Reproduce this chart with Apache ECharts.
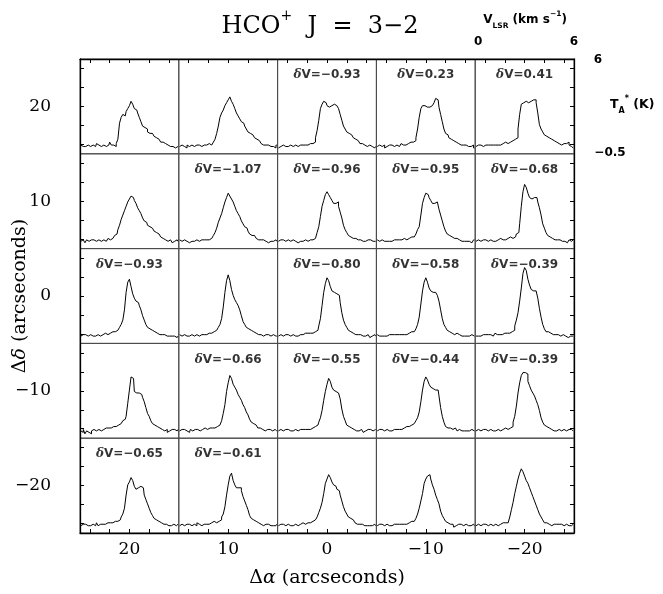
<!DOCTYPE html>
<html>
<head>
<meta charset="utf-8">
<script src="https://cdn.jsdelivr.net/npm/echarts@6/dist/echarts.min.js"></script>
<style>
  html, body { margin: 0; padding: 0; background: #fff; }
  #chart { width: 663px; height: 594px; }
</style>
</head>
<body>
<div id="chart"></div>
<script>
// Map offsets (arcsec): columns run east to west, rows north to south
const RA_OFFSETS  = [20, 10, 0, -10, -20];
const DEC_OFFSETS = [20, 10, 0, -10, -20];

// Spectral channels: centre of first channel and channel width (km/s)
const V_START = 0.05;
const V_STEP = 0.1;
const V_RANGE = [0, 6];
const T_RANGE = [-0.5, 6];

// Outer axis ticks and labels (arcsec)
const OFFSET_TICKS = [-24, -22, -20, -18, -16, -14, -12, -10, -8, -6, -4, -2, 0, 2, 4, 6, 8, 10, 12, 14, 16, 18, 20, 22, 24];
const OFFSET_LABELS = [-20, -10, 0, 10, 20];

// HCO+ 3-2 spectra, T_A* (K) per channel, named sp_<ra>_<dec>
const sp_20_20 = [0.1,0.0,-0.1,0.0,0.1,0.0,0.0,0.1,0.1,0.0,0.2,0.1,0.0,0.1,0.1,0.0,0.0,0.1,0.3,0.1,0.1,0.0,0.2,
  0.5,1.6,2.0,2.2,2.1,2.4,2.6,2.8,3.1,2.9,2.6,2.5,2.3,2.0,1.7,1.4,1.3,1.2,1.0,0.9,0.9,0.8,0.7,0.6,0.5,0.4,0.3,0.3,0.2,0.1,0.1,0.0,0.1,0.0,-0.1,0.0,0.0];
const sp_10_20 = [0.0,0.1,0.0,0.0,-0.1,0.1,0.0,0.1,0.0,0.0,0.1,0.0,0.1,0.0,0.0,0.1,0.1,0.0,0.2,0.1,0.2,0.3,
  0.5,0.9,1.4,2.0,2.3,2.5,2.8,3.0,3.2,3.4,3.1,2.9,2.6,2.3,2.1,1.9,1.7,1.6,1.4,1.2,1.0,0.9,0.8,0.7,0.6,0.5,0.4,0.3,0.2,0.1,0.1,0.0,0.1,0.0,0.1,0.0,-0.1,0.1];
const sp_0_20 = [-0.1,0.0,0.0,0.1,0.0,0.1,0.0,0.1,0.2,0.0,0.1,0.1,0.0,0.1,0.2,0.1,0.1,0.2,0.1,0.2,0.2,0.2,
  0.3,0.6,1.1,1.8,2.6,2.9,3.1,3.0,2.8,2.7,2.8,2.8,2.9,2.8,2.8,2.6,2.2,1.8,1.4,1.2,1.0,0.9,0.8,0.7,0.6,0.5,0.4,0.3,0.2,0.2,0.1,0.1,0.0,0.1,0.0,0.0,-0.1,0.0];
const sp_m10_20 = [0.0,0.1,0.0,0.0,0.1,-0.1,0.0,0.1,0.0,0.1,0.0,0.1,0.1,0.0,0.1,0.2,0.1,0.1,0.2,0.2,0.3,0.2,0.3,0.4,
  0.6,1.2,2.0,2.6,2.8,2.8,2.7,2.8,2.7,2.8,2.9,3.0,3.3,3.2,2.7,2.2,1.7,1.2,0.9,0.8,0.6,0.5,0.4,0.4,0.3,0.2,0.2,0.1,0.1,0.0,0.1,0.0,-0.1,0.0,0.1,-0.1];
const sp_m20_20 = [0.0,0.1,0.0,0.1,0.0,0.0,0.1,0.1,0.0,0.1,0.1,0.2,0.1,0.1,0.2,0.1,0.2,0.2,0.3,0.2,0.3,0.3,0.4,0.4,0.5,0.6,
  1.2,2.2,2.9,3.0,3.1,3.0,3.0,3.1,3.1,3.2,3.2,3.0,2.3,1.5,1.2,1.0,0.8,0.7,0.6,0.5,0.5,0.4,0.3,0.3,0.2,0.1,0.1,0.2,0.1,0.2,0.3,0.1,0.0,-0.1];

const sp_20_10 = [0.0,0.1,0.0,-0.1,0.1,0.0,0.1,0.0,0.1,0.0,-0.1,0.1,0.0,0.1,0.1,0.0,0.1,0.2,0.1,0.2,0.3,0.4,
  0.5,0.8,1.1,1.5,1.8,2.1,2.4,2.7,2.9,3.1,3.0,2.8,2.6,2.3,2.1,1.9,1.6,1.4,1.3,1.1,1.0,0.9,0.8,0.7,0.6,0.5,0.4,0.3,0.2,0.1,0.1,0.0,0.1,0.0,-0.1,0.0,0.1,0.0];
const sp_10_10 = [0.1,0.0,0.0,0.1,0.0,0.1,-0.1,0.0,0.1,0.0,0.1,0.0,0.0,0.1,0.0,0.1,0.1,0.2,0.1,0.2,0.3,0.4,
  0.6,0.9,1.3,1.6,1.9,2.3,2.7,3.0,3.3,3.1,2.9,2.7,2.4,2.1,1.9,1.7,1.4,1.2,1.0,0.9,0.7,0.5,0.4,0.4,0.3,0.2,0.1,0.1,0.0,0.1,0.0,0.1,-0.1,0.0,0.1,0.0,0.1,0.0];
const sp_0_10 = [0.0,0.1,0.0,0.1,0.0,-0.1,0.1,0.0,0.0,0.1,0.0,0.1,-0.1,0.0,0.1,0.0,0.1,0.1,0.0,0.1,0.2,0.1,0.2,
  0.3,0.6,1.0,1.7,2.4,2.8,3.2,3.4,3.2,3.0,2.8,2.6,2.6,2.7,2.4,2.0,1.6,1.1,0.8,0.6,0.4,0.3,0.2,0.3,0.2,0.1,0.2,0.1,0.0,0.1,0.0,0.1,0.0,0.1,0.0,0.1,0.0];
const sp_m10_10 = [0.1,0.0,0.0,0.1,0.0,0.1,0.0,0.0,0.1,0.0,0.1,0.0,0.1,0.1,0.0,0.1,0.2,0.1,0.1,0.2,0.2,0.3,0.3,0.4,
  0.5,0.8,1.0,1.8,2.6,3.0,3.3,3.2,3.0,2.8,2.6,2.6,2.7,2.6,2.2,1.8,1.4,1.0,0.7,0.5,0.4,0.3,0.3,0.2,0.2,0.1,0.1,0.0,0.1,0.0,0.0,0.1,0.0,-0.1,0.0,0.1];
const sp_m20_10 = [0.0,0.1,0.0,0.0,0.1,0.0,0.1,0.0,0.1,0.1,0.0,0.1,0.0,0.1,0.1,0.2,0.1,0.2,0.1,0.2,0.2,0.3,0.2,0.3,0.3,
  0.5,0.6,1.2,2.4,3.4,3.9,3.7,3.3,3.0,2.9,3.0,3.1,3.0,2.7,2.3,1.8,1.2,0.9,0.6,0.4,0.3,0.2,0.2,0.1,0.1,0.0,0.1,0.0,0.1,0.0,-0.1,0.0,0.1,0.0,0.1];

const sp_20_0 = [0.0,0.1,0.0,0.1,0.0,0.0,0.1,0.0,0.1,0.0,0.1,0.1,0.0,0.1,0.1,0.2,0.1,0.2,0.2,0.3,0.3,0.3,0.4,0.5,0.6,
  0.8,1.1,1.8,3.0,3.7,3.9,3.4,2.9,2.6,2.4,2.3,2.1,1.8,1.4,1.1,0.8,0.6,0.5,0.4,0.3,0.3,0.2,0.2,0.1,0.1,0.0,0.1,0.0,0.1,0.0,0.0,0.1,0.0,-0.1,0.0];
const sp_10_0 = [0.1,0.0,0.0,0.1,0.0,0.1,0.0,0.1,0.0,0.0,0.1,0.1,0.0,0.1,0.2,0.1,0.1,0.2,0.2,0.2,0.3,0.3,0.4,0.5,0.6,
  0.8,1.2,2.0,3.0,3.8,4.2,3.8,3.2,2.8,2.5,2.3,2.1,1.8,1.4,1.0,0.8,0.6,0.5,0.4,0.3,0.3,0.2,0.2,0.1,0.1,0.1,0.0,0.1,0.0,0.1,0.0,0.0,0.1,0.0,0.0];
const sp_0_0 = [0.0,0.1,0.0,0.0,0.1,0.0,0.1,0.0,0.1,0.1,0.0,0.1,0.0,0.1,0.1,0.1,0.2,0.1,0.2,0.2,0.2,0.2,0.3,
  0.3,0.4,0.7,1.2,2.1,3.0,3.6,4.0,3.8,3.4,3.1,3.0,2.9,2.9,2.8,2.3,1.6,1.1,0.8,0.6,0.4,0.3,0.2,0.2,0.1,0.1,0.2,0.1,0.0,0.1,0.0,0.1,0.0,-0.1,0.0,0.1,0.0];
const sp_m10_0 = [0.1,0.0,0.1,0.0,0.0,0.1,0.0,0.1,0.0,0.1,0.1,0.0,0.1,0.1,0.0,0.1,0.1,0.2,0.1,0.2,0.2,0.3,0.3,
  0.4,0.5,0.8,1.3,2.2,3.1,3.7,4.0,3.7,3.3,3.1,3.0,3.0,3.0,2.8,2.4,1.8,1.2,0.8,0.6,0.4,0.3,0.2,0.2,0.1,0.2,0.1,0.1,0.0,0.1,0.0,0.0,0.1,0.0,0.1,0.0,0.0];
const sp_m20_0 = [0.0,0.0,0.1,0.0,0.1,0.0,0.1,0.1,0.0,0.1,0.0,0.1,0.2,0.1,0.1,0.2,0.1,0.2,0.3,0.2,0.2,0.3,0.3,
  0.4,0.7,1.1,1.6,2.4,3.3,4.3,4.7,4.5,3.9,3.5,3.2,3.1,3.1,3.0,2.6,1.9,1.3,0.8,0.5,0.3,0.3,0.2,0.2,0.1,0.1,0.2,0.1,0.0,0.1,0.1,0.0,0.1,-0.1,0.0,0.1,0.0];

const sp_20_m10 = [0.0,-0.1,0.1,-0.2,0.0,-0.1,-0.2,0.0,0.1,0.0,0.0,0.1,0.0,0.1,0.1,0.2,0.1,0.2,0.2,0.2,
  0.3,0.3,0.4,0.4,0.5,0.6,0.7,0.8,1.0,1.9,2.8,3.7,3.6,2.7,2.6,2.6,2.5,2.5,2.3,2.0,1.6,1.2,1.0,0.7,0.5,0.4,0.3,0.3,0.2,0.1,0.1,0.0,0.1,-0.1,0.0,0.1,0.0,0.1,0.0,0.1];
const sp_10_m10 = [0.0,0.1,0.0,0.1,0.0,0.0,-0.1,0.1,0.0,0.1,0.0,0.1,0.0,0.1,0.1,0.2,0.1,0.1,0.2,0.1,0.2,0.2,0.3,
  0.3,0.4,0.5,0.7,1.2,1.8,2.7,3.3,3.8,3.6,3.2,3.0,2.8,2.5,2.3,2.1,1.8,1.6,1.3,1.1,0.8,0.6,0.5,0.4,0.3,0.2,0.2,0.1,0.1,0.0,0.1,0.0,0.1,0.0,0.0,0.1,0.0];
const sp_0_m10 = [0.0,0.1,0.0,0.0,0.1,0.0,0.1,0.0,0.1,0.0,0.1,0.1,0.0,0.1,0.0,0.1,0.1,0.2,0.1,0.1,0.2,0.2,0.3,
  0.3,0.4,0.6,0.9,1.4,2.1,2.7,3.2,3.6,3.4,3.0,2.8,2.7,2.6,2.5,2.2,1.5,1.0,0.7,0.4,0.3,0.2,0.1,0.1,0.0,0.1,0.0,0.1,0.0,-0.1,0.0,0.1,0.0,0.1,0.0,0.0,0.1];
const sp_m10_m10 = [0.0,0.1,0.0,0.1,0.0,0.0,0.1,0.0,0.1,0.0,0.1,0.0,0.1,0.1,0.2,0.1,0.2,0.2,0.3,0.3,0.4,0.4,
  0.5,0.6,0.7,0.9,1.3,2.0,2.8,3.4,3.7,3.5,3.2,3.0,2.9,2.8,2.8,2.8,2.4,1.6,1.0,0.6,0.3,0.2,0.2,0.1,0.1,0.2,0.1,0.0,0.1,0.0,0.1,0.0,0.0,0.1,0.0,0.1,0.0,0.0];
const sp_m20_m10 = [0.0,0.1,0.0,0.0,0.1,0.0,0.1,0.0,0.1,0.1,0.0,0.1,0.0,0.1,0.1,0.0,0.1,0.1,0.2,0.1,0.2,0.2,
  0.3,0.6,1.0,1.7,2.6,3.3,3.8,4.0,4.0,3.9,3.4,3.1,2.8,2.6,2.4,2.1,1.8,1.4,0.9,0.6,0.4,0.3,0.2,0.1,0.1,0.0,0.1,0.0,0.1,0.1,0.0,0.1,0.0,0.0,0.1,0.0,0.1,0.0];

const sp_20_m20 = [0.0,0.1,0.0,0.1,0.0,0.1,0.0,0.1,0.1,0.0,0.2,0.0,0.1,0.1,0.0,0.1,0.2,0.1,0.2,0.2,0.3,0.3,0.3,0.4,
  0.4,0.6,0.8,1.2,2.1,2.8,3.0,3.3,3.1,2.7,2.5,2.6,2.7,2.8,2.6,2.1,1.8,1.5,1.2,0.9,0.7,0.5,0.4,0.3,0.2,0.2,0.1,0.0,0.1,0.0,0.1,0.0,0.1,0.0,0.0,0.1];
const sp_10_m20 = [0.0,0.1,0.0,0.0,0.1,0.0,0.1,0.0,0.1,0.1,0.0,0.2,0.1,0.0,0.1,0.1,0.1,0.2,0.1,0.2,0.2,0.3,0.2,0.3,0.3,
  0.4,0.6,0.8,1.3,2.1,2.8,3.4,3.6,3.1,2.8,2.6,2.6,2.6,2.4,2.0,1.7,1.4,1.1,0.7,0.5,0.4,0.3,0.2,0.2,0.1,0.1,0.0,0.1,0.0,0.1,0.0,0.1,0.0,0.0,0.1];
const sp_0_m20 = [0.0,0.1,0.0,0.1,0.0,0.0,0.1,0.0,0.1,0.0,0.1,0.1,0.0,0.1,0.1,0.2,0.1,0.2,0.2,0.2,0.3,0.3,0.4,
  0.4,0.6,0.9,1.2,1.6,2.2,2.9,3.2,3.5,3.3,3.0,2.8,2.7,2.5,2.4,2.1,1.7,1.3,1.0,0.8,0.6,0.5,0.4,0.3,0.2,0.1,0.1,0.0,0.1,0.0,0.1,0.0,0.0,0.1,0.0,0.1,0.0];
const sp_m10_m20 = [0.0,0.1,0.0,0.1,0.0,0.1,0.1,0.0,0.1,0.0,0.1,0.0,0.1,0.1,0.0,0.1,0.1,0.2,0.1,0.2,0.2,0.3,
  0.3,0.4,0.5,0.8,1.2,1.7,2.2,2.9,3.2,3.4,3.5,3.2,2.8,2.5,2.1,1.8,1.5,1.0,0.7,0.5,0.3,0.2,0.1,0.0,0.1,-0.1,0.0,0.1,0.0,0.1,0.0,0.0,0.1,0.0,-0.1,0.0,0.1,0.0];
const sp_m20_m20 = [0.0,0.1,0.0,0.0,0.1,0.0,0.1,0.0,0.1,0.1,0.0,0.1,0.1,0.0,0.1,0.1,0.2,0.1,0.2,0.2,
  0.3,0.6,1.1,1.6,2.2,2.7,3.2,3.6,3.9,3.7,3.4,3.1,2.9,2.6,2.3,2.0,1.7,1.4,1.1,0.8,0.6,0.4,0.2,0.2,0.1,0.1,0.0,0.1,0.0,0.1,0.1,0.0,0.1,0.0,0.0,0.1,0.0,-0.1,0.0,0.1];

// Grid of spectra, rows = Dec (north at top), columns = RA (east at left)
const SPECTRA = [
  [sp_20_20,  sp_10_20,  sp_0_20,  sp_m10_20,  sp_m20_20],
  [sp_20_10,  sp_10_10,  sp_0_10,  sp_m10_10,  sp_m20_10],
  [sp_20_0,   sp_10_0,   sp_0_0,   sp_m10_0,   sp_m20_0],
  [sp_20_m10, sp_10_m10, sp_0_m10, sp_m10_m10, sp_m20_m10],
  [sp_20_m20, sp_10_m20, sp_0_m20, sp_m10_m20, sp_m20_m20]
];

// Velocity shifts (km/s) annotated in each panel; null where none is given
const DELTA_V = [
  [null,  null,  -0.93,  0.23,  0.41],
  [null,  -1.07, -0.96, -0.95, -0.68],
  [-0.93, null,  -0.80, -0.58, -0.39],
  [null,  -0.66, -0.55, -0.44, -0.39],
  [-0.65, -0.61, null,  null,  null]
];

// ---- layout ----
const FRAME = { left: 80, top: 59, width: 494, height: 474 };
const NCOL = RA_OFFSETS.length, NROW = DEC_OFFSETS.length;
const PW = FRAME.width / NCOL, PH = FRAME.height / NROW;
const LABEL_POS = [3.0, 4.9];   // where the δV text sits inside a panel (v, T)

const SERIF = "'DejaVu Serif', serif";
const SANS = "'DejaVu Sans', sans-serif";
const minus = s => String(s).replace('-', '\u2212');
const fmtOffset = v => minus(v);

const nameRich = {
  u: { fontFamily: SERIF, fontSize: 19, color: '#000' },
  i: { fontFamily: SERIF, fontSize: 19, fontStyle: 'italic', color: '#000' }
};
const frameLine = { show: true, onZero: false, lineStyle: { color: '#000', width: 1.3 } };
const frameTick = { show: true, inside: true, length: 4, customValues: OFFSET_TICKS, lineStyle: { color: '#000' } };

const grid = [{
  left: FRAME.left, top: FRAME.top, width: FRAME.width, height: FRAME.height,
  show: false, containLabel: false, outerBoundsMode: 'none'
}];
const xAxis = [
  {
    gridIndex: 0, type: 'value', min: -25, max: 25, inverse: true, position: 'bottom',
    axisLine: frameLine, axisTick: frameTick,
    axisLabel: { customValues: OFFSET_LABELS, formatter: fmtOffset, fontFamily: SERIF, fontSize: 17, color: '#000', margin: 8 },
    splitLine: { show: false },
    name: '{u|\u0394}{i|\u03b1}{u| (arcseconds)}', nameLocation: 'middle', nameGap: 36, nameMoveOverlap: false,
    nameTextStyle: { rich: nameRich }
  },
  {
    gridIndex: 0, type: 'value', min: -25, max: 25, inverse: true, position: 'top',
    axisLine: frameLine, axisTick: frameTick, axisLabel: { show: false }, splitLine: { show: false }
  }
];
const yAxis = [
  {
    gridIndex: 0, type: 'value', min: -25, max: 25, position: 'left',
    axisLine: frameLine, axisTick: frameTick,
    axisLabel: { customValues: OFFSET_LABELS, formatter: fmtOffset, fontFamily: SERIF, fontSize: 17, color: '#000', margin: 29 },
    splitLine: { show: false },
    name: '{u|\u0394}{i|\u03b4}{u| (arcseconds)}', nameLocation: 'middle', nameGap: 50, nameRotate: 90, nameMoveOverlap: false,
    nameTextStyle: { rich: nameRich }
  },
  {
    gridIndex: 0, type: 'value', min: -25, max: 25, position: 'right',
    axisLine: frameLine, axisTick: frameTick, axisLabel: { show: false }, splitLine: { show: false }
  }
];
const series = [];

SPECTRA.forEach((row, r) => {
  row.forEach((spec, c) => {
    const gi = grid.length;
    grid.push({
      left: FRAME.left + c * PW, top: FRAME.top + r * PH, width: PW, height: PH,
      show: true, borderColor: '#4a4a4a', borderWidth: 1, backgroundColor: 'transparent',
      containLabel: false, outerBoundsMode: 'none'
    });
    const ai = xAxis.length;
    xAxis.push({ gridIndex: gi, type: 'value', min: V_RANGE[0], max: V_RANGE[1], show: false });
    yAxis.push({ gridIndex: gi, type: 'value', min: T_RANGE[0], max: T_RANGE[1], show: false });
    series.push({
      type: 'line', xAxisIndex: ai, yAxisIndex: ai, step: 'middle', showSymbol: false, silent: true,
      lineStyle: { color: '#000', width: 1 },
      data: spec.map((t, i) => [V_START + i * V_STEP, t])
    });
    const dv = DELTA_V[r][c];
    if (dv !== null) {
      series.push({
        type: 'scatter', xAxisIndex: ai, yAxisIndex: ai, silent: true, symbolSize: 1,
        itemStyle: { color: 'rgba(0,0,0,0)' },
        data: [LABEL_POS],
        label: {
          show: true, position: 'inside',
          formatter: '{d|\u03b4}{t|V=' + minus(dv.toFixed(2)) + '}',
          rich: {
            d: { fontFamily: SERIF, fontStyle: 'italic', fontWeight: 'bold', fontSize: 12, color: '#000' },
            t: { fontFamily: SANS, fontWeight: 'bold', fontSize: 12, color: '#000' }
          }
        }
      });
    }
  });
});

// Scale key beside the top-right panel
const keyLeft = FRAME.left + (NCOL - 1) * PW, keyRight = FRAME.left + FRAME.width;
const keyTop = FRAME.top, keyBottom = FRAME.top + PH;
const keyStyle = { fontFamily: SANS, fontWeight: 'bold', fontSize: 12, fill: '#000' };
const keyRich = (main, small) => ({
  b: { fontFamily: SANS, fontWeight: 'bold', fontSize: main, fill: '#000', verticalAlign: 'middle', lineHeight: 20 },
  sub: { fontFamily: SANS, fontWeight: 'bold', fontSize: small, fill: '#000', verticalAlign: 'bottom', lineHeight: 20 },
  sup: { fontFamily: SANS, fontWeight: 'bold', fontSize: small, fill: '#000', verticalAlign: 'top', lineHeight: 20 }
});
const graphic = [
  { type: 'text', x: 320, y: 9, style: {
      text: '{m|HCO}{s|+}{m|  J  =  3\u22122}', align: 'center',
      rich: {
        m: { fontFamily: SERIF, fontSize: 24, fill: '#000', verticalAlign: 'bottom', lineHeight: 30 },
        s: { fontFamily: SERIF, fontSize: 14, fill: '#000', verticalAlign: 'top', lineHeight: 30 }
      } } },
  { type: 'text', x: keyLeft + 3, y: 36, style: Object.assign({ text: String(V_RANGE[0]), align: 'center' }, keyStyle) },
  { type: 'text', x: keyRight, y: 36, style: Object.assign({ text: String(V_RANGE[1]), align: 'center' }, keyStyle) },
  { type: 'text', x: keyLeft + 8, y: 10, style: {
      text: '{b|V}{sub|LSR}{b| (km s}{sup|\u22121}{b|)}', rich: keyRich(12, 7.5) } },
  { type: 'text', x: keyRight + 24, y: keyTop + 1, style: Object.assign({ text: String(T_RANGE[1]), align: 'center', verticalAlign: 'middle' }, keyStyle) },
  { type: 'text', x: keyRight + 36, y: keyBottom - 1, style: Object.assign({ text: minus(T_RANGE[0]), align: 'center', verticalAlign: 'middle' }, keyStyle) },
  { type: 'text', x: keyRight + 36, y: keyTop + 36, style: {
      text: '{b|T}{sub|A}{sup|*}{b| (K)}', rich: keyRich(12.5, 8) } }
];

const chart = echarts.init(document.getElementById('chart'), null, { renderer: 'canvas' });
chart.setOption({
  backgroundColor: '#fff',
  animation: false,
  grid, xAxis, yAxis, series, graphic
});
</script>
</body>
</html>
